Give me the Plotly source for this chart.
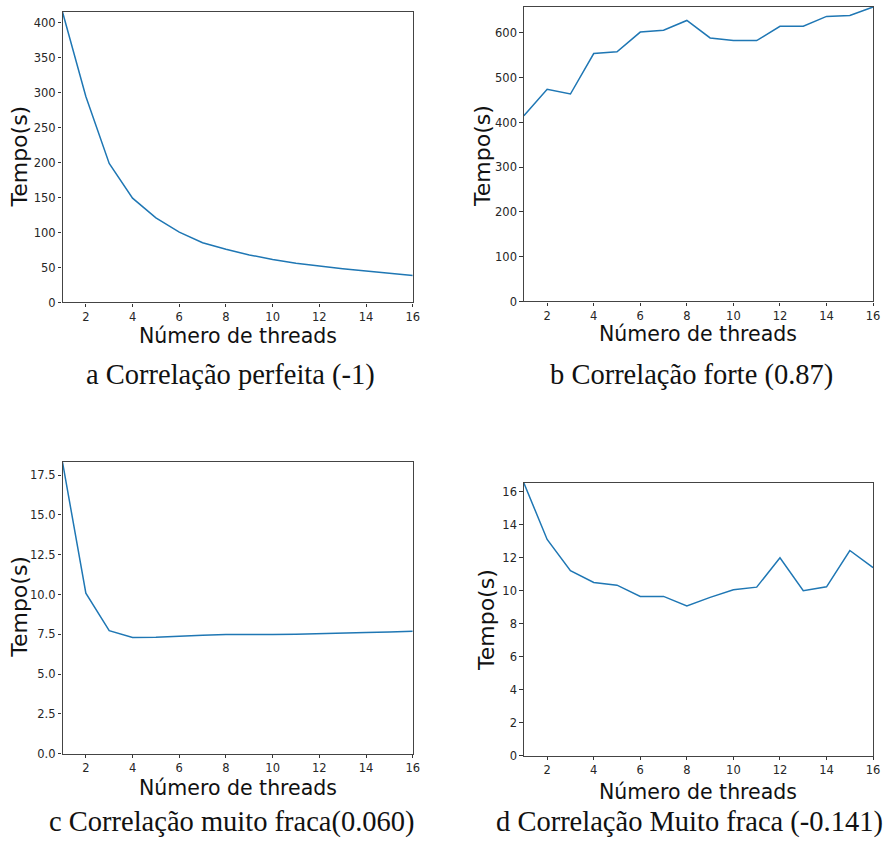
import plotly.graph_objects as go

threads = list(range(1, 17))

tempo_a = [415.6, 294.7, 198.8, 149.2, 120.9, 100.6, 85.5, 76.0, 68.0, 61.4, 56.2, 52.0, 48.2, 44.9, 41.6, 38.7]
tempo_b = [415.0, 474.0, 463.6, 554.0, 558.0, 602.0, 606.0, 628.0, 589.0, 583.0, 583.0, 615.0, 615.0, 637.0, 639.0, 658.2]
tempo_c = [18.31, 10.08, 7.73, 7.30, 7.32, 7.40, 7.44, 7.48, 7.46, 7.48, 7.50, 7.55, 7.59, 7.61, 7.65, 7.69]
tempo_d = [16.52, 13.10, 11.21, 10.49, 10.33, 9.65, 9.65, 9.07, 9.59, 10.05, 10.21, 11.99, 9.99, 10.23, 12.43, 11.39]

captions = ["a Correlação perfeita (-1)", "b Correlação forte (0.87)",
            "c Correlação muito fraca(0.060)", "d Correlação Muito fraca (-0.141)"]
x_title = "Número de threads"
y_title = "Tempo(s)"

W, H = 894, 845
series = [tempo_a, tempo_b, tempo_c, tempo_d]
# panel boxes in pixels: (left, right, top, bottom)
boxes = [(63, 416, 12, 305), (528, 880, 7, 304), (63, 416, 466, 760), (528, 880, 487, 762)]
yticks = [
    dict(tickvals=list(range(0, 401, 50)), ticktext=[str(v) for v in range(0, 401, 50)]),
    dict(tickvals=list(range(0, 601, 100)), ticktext=[str(v) for v in range(0, 601, 100)]),
    dict(tickvals=[0, 2.5, 5, 7.5, 10, 12.5, 15, 17.5], ticktext=["0.0", "2.5", "5.0", "7.5", "10.0", "12.5", "15.0", "17.5"]),
    dict(tickvals=list(range(0, 17, 2)), ticktext=[str(v) for v in range(0, 17, 2)]),
]
xtitle_pos = [(240, 339), (704, 337), (240, 795), (704, 799)]
ytitle_pos = [(20, 158), (487, 157), (20, 612), (491, 625)]
caption_pos = [(232, 378), (697, 378), (234, 829), (695, 829)]

fig = go.Figure()
annotations = []
for i, (vals, box) in enumerate(zip(series, boxes)):
    n = "" if i == 0 else str(i + 1)
    l, r, t, b = box
    fig.add_trace(go.Scatter(x=threads, y=vals, mode="lines",
                             line=dict(color="#1f77b4", width=1.5),
                             xaxis="x" + n, yaxis="y" + n, showlegend=False,
                             cliponaxis=True))
    xa = dict(domain=[l / W, r / W], range=[1, 16], anchor="y" + n,
              tickvals=list(range(2, 17, 2)), ticks="outside", ticklen=3.5,
              tickcolor="#333", showline=True, linecolor="#444", linewidth=1.2,
              mirror=True, showgrid=False, zeroline=False,
              tickfont=dict(family="DejaVu Sans", size=11.5, color="#262626"))
    ya = dict(domain=[1 - b / H, 1 - t / H], range=[0, max(vals)], anchor="x" + n,
              ticks="outside", ticklen=3.5, tickcolor="#333",
              showline=True, linecolor="#444", linewidth=1.2, mirror=True,
              showgrid=False, zeroline=False,
              tickfont=dict(family="DejaVu Sans", size=11.5, color="#262626"),
              **yticks[i])
    fig.update_layout(**{"xaxis" + n: xa, "yaxis" + n: ya})
    annotations.append(dict(text=x_title, x=xtitle_pos[i][0] / W, y=1 - xtitle_pos[i][1] / H,
                            xref="paper", yref="paper", showarrow=False,
                            xanchor="center", yanchor="middle",
                            font=dict(family="DejaVu Sans", size=20.5, color="#111")))
    annotations.append(dict(text=y_title, x=ytitle_pos[i][0] / W, y=1 - ytitle_pos[i][1] / H,
                            xref="paper", yref="paper", showarrow=False, textangle=-90,
                            xanchor="center", yanchor="middle",
                            font=dict(family="DejaVu Sans", size=22, color="#111")))
    annotations.append(dict(text=captions[i], x=caption_pos[i][0] / W, y=1 - caption_pos[i][1] / H,
                            xref="paper", yref="paper", showarrow=False,
                            xanchor="center", yanchor="middle",
                            font=dict(family="Liberation Serif", size=28.5, color="#111")))

fig.update_layout(width=W, height=H, margin=dict(l=0, r=0, t=0, b=0),
                  paper_bgcolor="white", plot_bgcolor="white",
                  annotations=annotations)
fig.write_html("out.html")
